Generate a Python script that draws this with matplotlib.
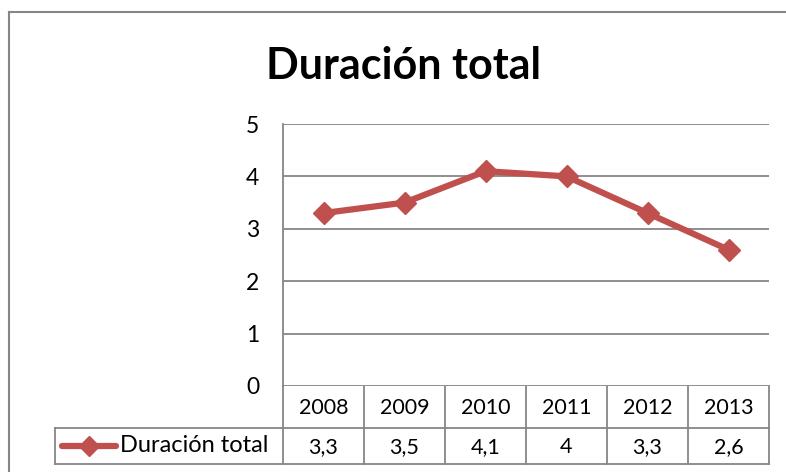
import matplotlib
matplotlib.use("Agg")
import matplotlib.pyplot as plt

years = ["2008", "2009", "2010", "2011", "2012", "2013"]
values = [3.3, 3.5, 4.1, 4.0, 3.3, 2.6]
value_labels = ["3,3", "3,5", "4,1", "4", "3,3", "2,6"]
series_name = "Duración total"
title = "Duración total"
yticks = [0, 1, 2, 3, 4, 5]

FONT = ["Lato", "DejaVu Sans"]
plt.rcParams['font.family'] = FONT
RED = "#C0504D"
GRID = "#868686"

W, H = 786, 472
fig = plt.figure(figsize=(W / 100, H / 100), dpi=100)

# plot area in pixels
L, R, T, B = 283, 769, 124, 386
ax = fig.add_axes([L / W, 1 - B / H, (R - L) / W, (B - T) / H])
ax.set_xlim(-0.5, len(years) - 0.5)
ax.set_ylim(0, 5)
ax.set_yticks(yticks)
ax.set_yticklabels([str(t) for t in yticks], fontsize=16.5)
ax.tick_params(axis='y', length=0, pad=17)
ax.set_xticks([])
ax.grid(axis='y', color=GRID, linewidth=1.3)
ax.set_axisbelow(True)
for s in ["top", "right", "bottom"]:
    ax.spines[s].set_visible(False)
ax.spines["left"].set_color(GRID)
ax.spines["left"].set_linewidth(1.3)
ax.plot(range(len(years)), values, color=RED, linewidth=4.5, marker="D",
        markersize=11.5, markerfacecolor=RED, markeredgecolor=RED, zorder=3,
        solid_joinstyle="round", clip_on=False)

# overlay axes in pixel coordinates for border, title and data table
ov = fig.add_axes([0, 0, 1, 1], zorder=-1)
ov.set_xlim(0, W)
ov.set_ylim(H, 0)
ov.axis("off")
ov.patch.set_alpha(0)

lw = 1.3
# chart border
ov.plot([9, W], [12, 12], color=GRID, lw=1.5)
ov.plot([9, 9], [12, H], color=GRID, lw=1.5)

ov.text(404, 66, title, fontsize=31, fontweight="bold", ha="center", va="center")

# data table
n = len(years)
cw = (R - L) / n
r1, r2, r3 = 386, 428, 464
leg_left = 55
for i in range(n + 1):
    x = L + i * cw
    ov.plot([x, x], [r1, r3], color=GRID, lw=lw)
ov.plot([leg_left, R], [r2, r2], color=GRID, lw=lw)
ov.plot([leg_left, R], [r3, r3], color=GRID, lw=lw)
ov.plot([leg_left, leg_left], [r2, r3], color=GRID, lw=lw)

for i, (yr, vl) in enumerate(zip(years, value_labels)):
    cx = L + (i + 0.5) * cw
    ov.text(cx, (r1 + r2) / 2 + 1, yr, fontsize=15.5, ha="center", va="center")
    ov.text(cx, (r2 + r3) / 2 + 1, vl, fontsize=15.5, ha="center", va="center")

# legend key
ov.plot([62, 116], [446, 446], color=RED, lw=4.5, solid_capstyle="round")
ov.plot([89], [446], marker="D", markersize=10.5, color=RED)
ov.text(120, 446, series_name, fontsize=17, ha="left", va="center")

fig.savefig("out.png", dpi=100)
